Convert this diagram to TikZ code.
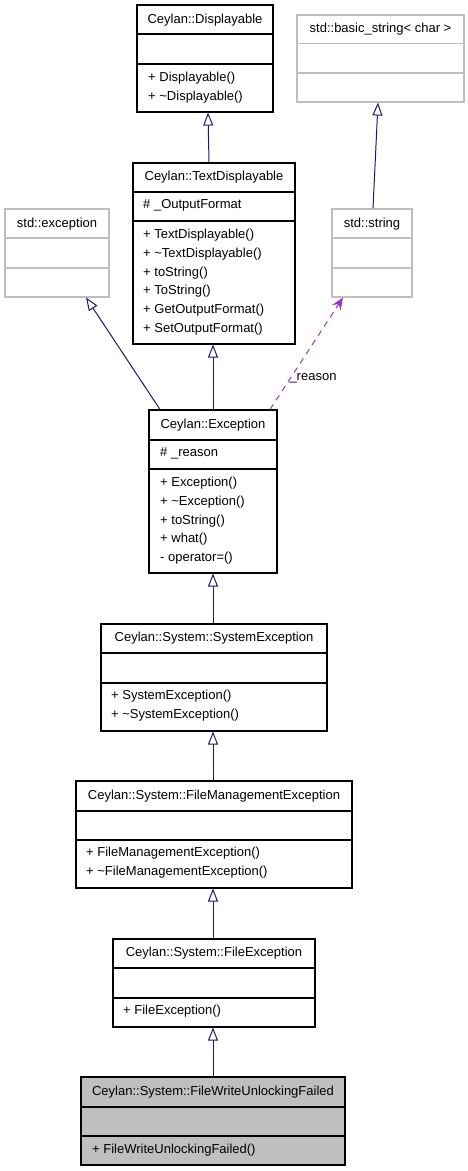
\documentclass[tikz,border=0pt]{standalone}
\usepackage{fontspec}
\setmainfont{Liberation Sans}
\usetikzlibrary{arrows.meta,fit}
\definecolor{edgeblue}{HTML}{191970}
\definecolor{usepurple}{HTML}{9A32CD}
\definecolor{boxgray}{HTML}{BFBFBF}
\newcommand{\umlcls}[8]{%
  \coordinate (#1-a) at (#2,#3);
  \coordinate (#1-b) at (#4,#5);
  \node[fit=(#1-a)(#1-b), inner sep=0pt, #8] (#1) {};
  \draw[#8, fill=none] (#2,#6) -- (#4,#6) (#2,#7) -- (#4,#7);
}
\tikzset{
  clsbox/.style={draw=black, line width=1.1pt},
  extbox/.style={draw=boxgray, line width=1.1pt},
  hlbox/.style={draw=black, fill=boxgray, line width=1.1pt},
  ttl/.style={font=\fontsize{13}{15}\selectfont, inner sep=0pt, anchor=base, yshift=-4.4pt},
  mbr/.style={font=\fontsize{13}{15}\selectfont, inner sep=0pt, anchor=base west, yshift=-4.2pt},
  inh/.style={draw=edgeblue, line width=1pt, -{Triangle[open, length=13pt, width=10pt, fill=white]}},
  usage/.style={draw=usepurple, line width=1pt, dash pattern=on 6pt off 5pt, -{Stealth[length=12pt, width=10pt, inset=4pt]}},
  lbl/.style={font=\fontsize{13}{15}\selectfont, inner sep=0pt, anchor=base, yshift=-4.4pt}
}
\begin{document}
\begin{tikzpicture}[x=1pt,y=-1pt]
\useasboundingbox (0,0) rectangle (468,1171);
% classes
\umlcls{disp}{137}{5}{273}{112}{34}{64}{clsbox}
\node[ttl] (disp-t) at (205,19) {Ceylan::Displayable};
\node[mbr] (disp-m1) at (148,77) {+ Displayable()};
\node[mbr] (disp-m2) at (148,96) {+ \textasciitilde Displayable()};

\umlcls{bs}{297}{15}{464}{102}{43.5}{73}{extbox}
\node[ttl] (bs-t) at (380.5,28) {std::basic\_string< char >};

\umlcls{td}{133}{163}{295}{344}{192}{221}{clsbox}
\node[ttl] (td-t) at (214,176) {Ceylan::TextDisplayable};
\node[mbr] (td-a1) at (143,204.7) {\# \_OutputFormat};
\node[mbr] (td-m1) at (143,234.7) {+ TextDisplayable()};
\node[mbr] (td-m2) at (143,253.3) {+ \textasciitilde TextDisplayable()};
\node[mbr] (td-m3) at (143,272) {+ toString()};
\node[mbr] (td-m4) at (143,290.7) {+ ToString()};
\node[mbr] (td-m5) at (143,309.3) {+ GetOutputFormat()};
\node[mbr] (td-m6) at (143,328) {+ SetOutputFormat()};

\umlcls{sexc}{5}{209}{109}{297}{238}{268}{extbox}
\node[ttl] (sexc-t) at (57,223) {std::exception};

\umlcls{str}{332}{209}{412}{297}{238}{268}{extbox}
\node[ttl] (str-t) at (372,223) {std::string};

\umlcls{exc}{149}{410}{277}{573}{440}{469}{clsbox}
\node[ttl] (exc-t) at (213,424) {Ceylan::Exception};
\node[mbr] (exc-a1) at (160,452.7) {\# \_reason};
\node[mbr] (exc-m1) at (160,482.7) {+ Exception()};
\node[mbr] (exc-m2) at (160,501) {+ \textasciitilde Exception()};
\node[mbr] (exc-m3) at (160,520) {+ toString()};
\node[mbr] (exc-m4) at (160,538.7) {+ what()};
\node[mbr] (exc-m5) at (160,557) {- operator=()};

\umlcls{syse}{101}{624}{327}{731}{653}{683}{clsbox}
\node[ttl] (syse-t) at (214,636.7) {Ceylan::System::SystemException};
\node[mbr] (syse-m1) at (111,695.7) {+ SystemException()};
\node[mbr] (syse-m2) at (111,714.7) {+ \textasciitilde SystemException()};

\umlcls{fme}{76}{781}{352}{888}{811}{840}{clsbox}
\node[ttl] (fme-t) at (214,794.7) {Ceylan::System::FileManagementException};
\node[mbr] (fme-m1) at (86,852.7) {+ FileManagementException()};
\node[mbr] (fme-m2) at (86,871.3) {+ \textasciitilde FileManagementException()};

\umlcls{fe}{113}{939}{315}{1027}{968}{998}{clsbox}
\node[ttl] (fe-t) at (214,951.7) {Ceylan::System::FileException};
\node[mbr] (fe-m1) at (123,1010.7) {+ FileException()};

\umlcls{fwuf}{81}{1077}{345}{1165}{1107}{1136}{hlbox}
\node[ttl] (fwuf-t) at (213,1090.7) {Ceylan::System::FileWriteUnlockingFailed};
\node[mbr] (fwuf-m1) at (92,1149) {+ FileWriteUnlockingFailed()};

% connectors
\draw[inh] (209,0 |- td.north) -- (208,0 |- disp.south);
\draw[inh] (373,0 |- str.north) -- (378,0 |- bs.south);
\draw[inh] (160,0 |- exc.north) -- (86,0 |- sexc.south);
\draw[inh] (213,0 |- exc.north) -- (213,0 |- td.south);
\draw[usage] (270,0 |- exc.north) -- (343,0 |- str.south);
\node[lbl] (reason) at (313,376) {\_reason};
\draw[inh] (213,0 |- syse.north) -- (213,0 |- exc.south);
\draw[inh] (213,0 |- fme.north) -- (213,0 |- syse.south);
\draw[inh] (213,0 |- fe.north) -- (213,0 |- fme.south);
\draw[inh] (213,0 |- fwuf.north) -- (213,0 |- fe.south);
\end{tikzpicture}
\end{document}
